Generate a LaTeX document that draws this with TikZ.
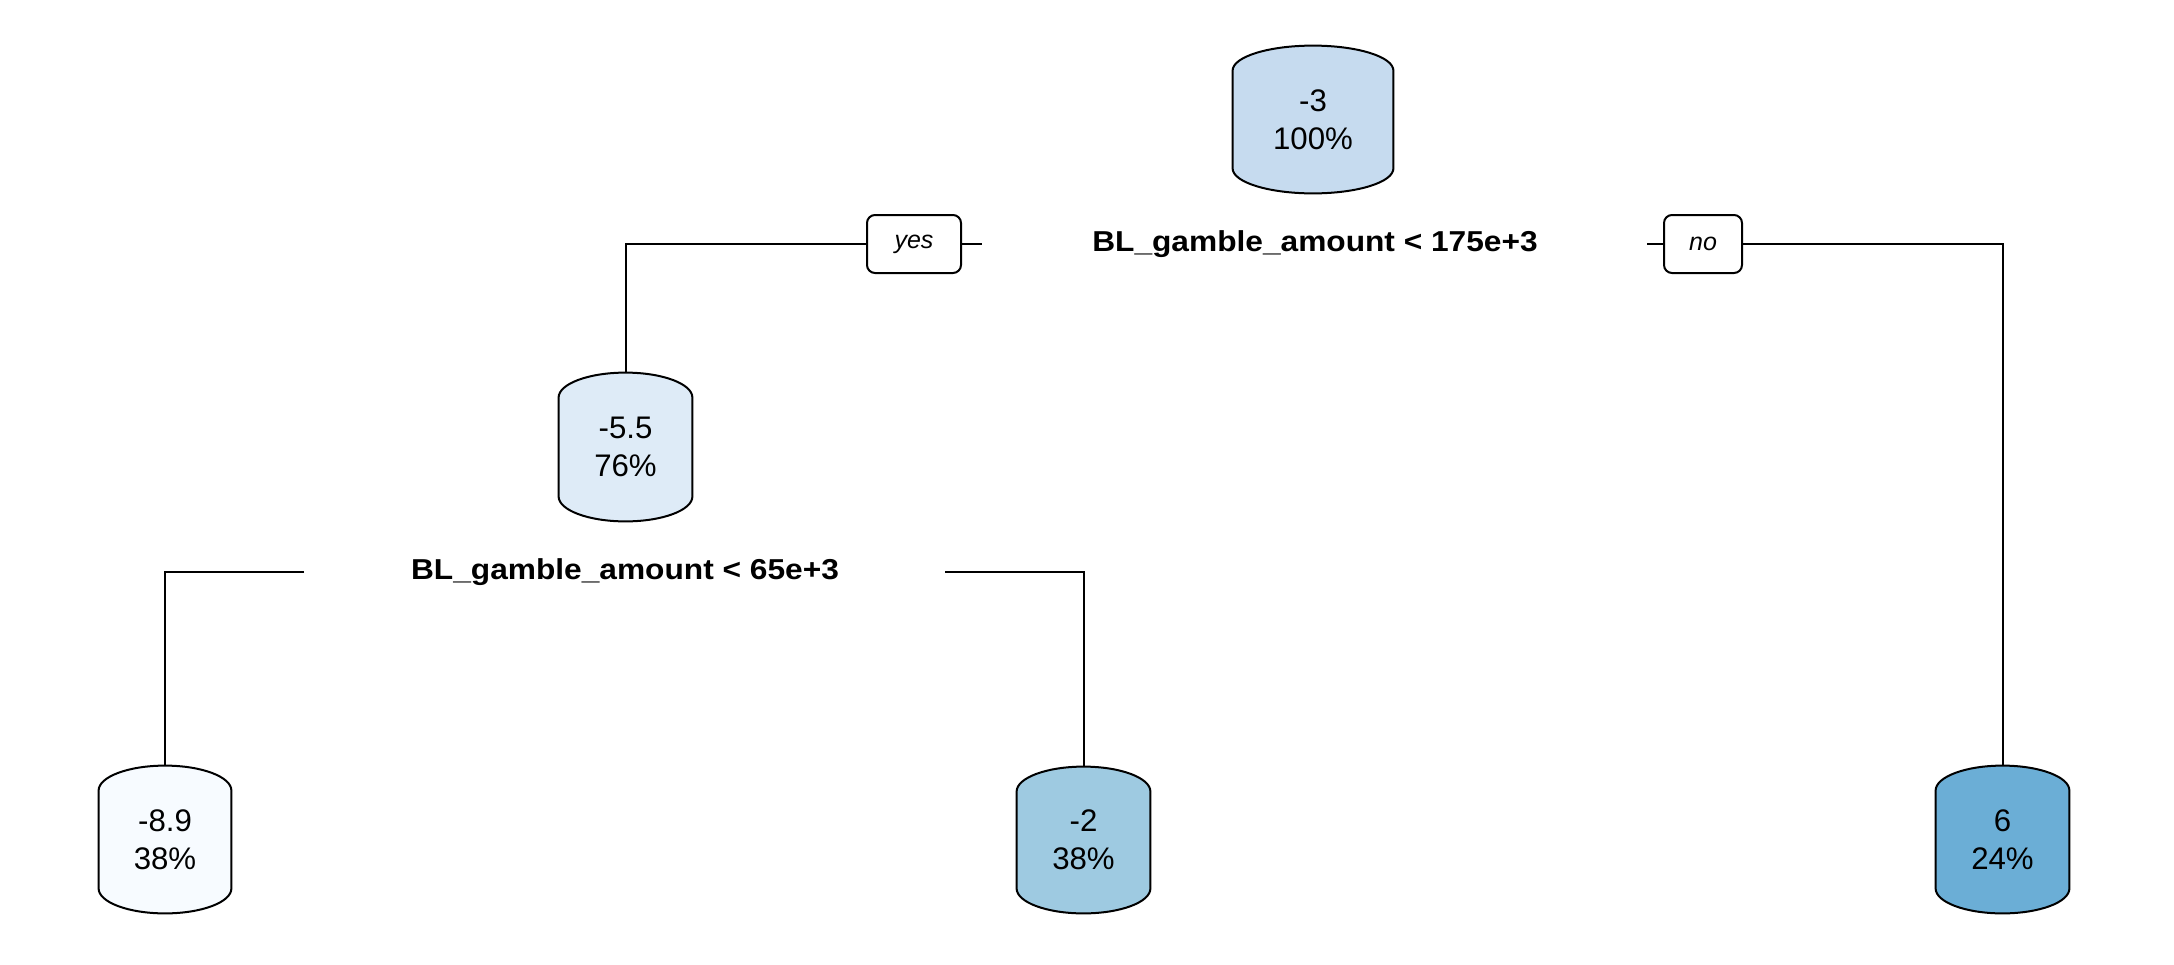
\documentclass[tikz,border=0pt]{standalone}
\usepackage{fontspec}
\setmainfont{Liberation Sans}
\newfontfamily\boldlab[FakeStretch=1.1]{Liberation Sans}
\usetikzlibrary{calc,backgrounds}
\definecolor{cRoot}{HTML}{C6DBEF}
\definecolor{cA}{HTML}{DEEBF7}
\definecolor{cB}{HTML}{F7FBFF}
\definecolor{cC}{HTML}{9ECAE1}
\definecolor{cD}{HTML}{6BAED6}
\tikzset{
  conn/.style={line width=1pt, draw=black},
  treenode/.style={align=center, inner sep=0pt, font=\fontsize{15.6}{19}\selectfont},
  splitlab/.style={inner sep=0pt, font=\boldlab\bfseries\fontsize{14.4}{16}\selectfont},
  ynbox/.style={draw, line width=1pt, rounded corners=4pt, fill=white, minimum height=29pt, inner sep=0pt, font=\itshape\fontsize{12.5}{14}\selectfont},
}
\newcommand{\barrelshape}[2]{%
  \begin{scope}[on background layer]
  \path[draw=black, line width=1pt, fill=#2] let \p1=(#1.north west), \p2=(#1.south east), \p3=(#1.center), \n1={0.5*(\x2-\x1)} in
   (\x1,\y1-12.5pt) arc[start angle=180, end angle=0, x radius=\n1, y radius=12.5pt]
   -- (\x2,\y2+12.5pt)
   arc[start angle=0, end angle=-180, x radius=\n1, y radius=12.5pt] -- cycle;
  \end{scope}}
\begin{document}
\begin{tikzpicture}[x=0.5pt,y=-0.5pt]
\useasboundingbox (0,0) rectangle (2174,964);
% tree nodes
\node[treenode, minimum width=80pt, minimum height=73.5pt] (root) at (1313,119.5) {-3\\100\%};
\node[treenode, minimum width=66.5pt, minimum height=74pt] (n55) at (625.5,447) {-5.5\\76\%};
\node[treenode, minimum width=66pt, minimum height=73.5pt] (n89) at (165,839.5) {-8.9\\38\%};
\node[treenode, minimum width=66.5pt, minimum height=73pt] (n2) at (1083.5,840) {-2\\38\%};
\node[treenode, minimum width=66.5pt, minimum height=73.5pt] (n6) at (2002.5,839.5) {6\\24\%};
\barrelshape{root}{cRoot}
\barrelshape{n55}{cA}
\barrelshape{n89}{cB}
\barrelshape{n2}{cC}
\barrelshape{n6}{cD}
% split labels
\node[splitlab] (s1) at (1315,244) {BL\_gamble\_amount < 175e+3};
\node[splitlab] (s2) at (625,572) {BL\_gamble\_amount < 65e+3};
% yes / no boxes
\node[ynbox, minimum width=47pt] (yes) at (914,244) {yes};
\node[ynbox, minimum width=39pt] (no) at (1703,244) {no};
% free ends of connectors
\coordinate (yesstub) at (982,244);
\coordinate (nostub) at (1647,244);
\coordinate (l2stub) at (304,572);
\coordinate (r2stub) at (945,572);
% connectors
\draw[conn] (yes.west) -| (n55.north);
\draw[conn] (yes.east) -- (yesstub);
\draw[conn] (nostub) -- (no.west);
\draw[conn] (no.east) -| (n6.north);
\draw[conn] (l2stub) -| (n89.north);
\draw[conn] (r2stub) -| (n2.north);
\end{tikzpicture}
\end{document}
